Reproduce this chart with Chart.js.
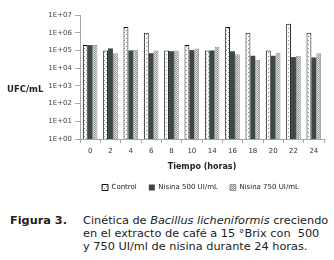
<!DOCTYPE html>
<html>
<head>
<meta charset="utf-8">
<script src="https://cdn.jsdelivr.net/npm/chart.js@4"></script>
<style>
  body { margin: 0; background: #fff; width: 334px; height: 260px; overflow: hidden; }
  .chart-box { position: absolute; left: 0; top: 0; width: 334px; height: 201px; }
  .caption { position: absolute; left: 10px; top: 214px; font-family: "DejaVu Sans", sans-serif; font-size: 11.3px; line-height: 13px; color: #222; }
  .caption .num { position: absolute; left: 0; top: 0; font-weight: bold; white-space: nowrap; }
  .caption .txt { position: absolute; left: 73px; top: 0; white-space: nowrap; }
</style>
</head>
<body>
<div class="chart-box"><canvas id="chart"></canvas></div>
<div class="caption">
  <span class="num">Figura 3.</span>
  <span class="txt">Cinética de <i>Bacillus licheniformis</i> creciendo<br>en el extracto de café a 15 °Brix con &nbsp;500<br>y 750 UI/ml de nisina durante 24 horas.</span>
</div>
<script>
  // horas de muestreo
  const horas = ["0", "2", "4", "6", "8", "10", "14", "16", "18", "20", "22", "24"];

  // UFC/mL
  const control = [2e5, 1e5, 2.1e6, 1e6, 1e5, 2e5, 1e5, 2.1e6, 1e6, 1e5, 3.2e6, 1e6];
  const nisina500 = [2e5, 1.3e5, 1e5, 7e4, 9e4, 1.05e5, 1e5, 9e4, 5e4, 5e4, 4.2e4, 4e4];
  const nisina750 = [2e5, 7e4, 1.1e5, 1e5, 1e5, 1.3e5, 1.6e5, 6e4, 3e4, 7.5e4, 5e4, 7e4];

  const yTicks = [1, 10, 100, 1e3, 1e4, 1e5, 1e6, 1e7];

  const ctx = document.getElementById("chart").getContext("2d");

  // tramas de las barras
  const patControl = ctx.createPattern((() => {
    const c = document.createElement("canvas");
    c.width = 4; c.height = 4;
    const g = c.getContext("2d");
    g.fillStyle = "#ffffff"; g.fillRect(0, 0, 4, 4);
    g.fillStyle = "#8a8a8a"; g.fillRect(0, 0, 1, 1); g.fillRect(2, 2, 1, 1);
    return c;
  })(), "repeat");
  const pat750 = ctx.createPattern((() => {
    const c = document.createElement("canvas");
    c.width = 2; c.height = 2;
    const g = c.getContext("2d");
    g.fillStyle = "#e4e4e4"; g.fillRect(0, 0, 2, 2);
    g.fillStyle = "#8c8c8c"; g.fillRect(0, 0, 1, 1); g.fillRect(1, 1, 1, 1);
    return c;
  })(), "repeat");

  const yTitle = {
    id: "yTitle",
    afterLayout(chart) {
      // mover la leyenda como en la figura
      const lg = chart.legend;
      const dx = 102 - (lg.left + lg.options.labels.padding);
      const dy = 0;
      lg.left += dx;
      lg.right += dx;
      lg.top += dy;
      lg.bottom += dy;
    },
    afterDraw(chart) {
      const c = chart.ctx;
      const a = chart.chartArea;
      c.save();
      c.font = "bold 8.5px 'DejaVu Sans', sans-serif";
      c.fillStyle = "#222";
      c.textBaseline = "middle";
      c.fillText("UFC/mL", 7, (a.top + a.bottom) / 2 + 13);
      c.restore();
    },
  };

  new Chart(ctx, {
    type: "bar",
    data: {
      labels: horas,
      datasets: [
        { label: "Control", data: control, backgroundColor: patControl, borderColor: "#111", borderWidth: 1 },
        { label: "Nisina 500 UI/mL", data: nisina500, backgroundColor: "#3c4848", borderColor: "#3c4848", borderWidth: 0 },
        { label: "Nisina 750 UI/mL", data: nisina750, backgroundColor: pat750, borderColor: "#999", borderWidth: 1 },
      ],
    },
    options: {
      responsive: true,
      maintainAspectRatio: false,
      animation: false,
      categoryPercentage: 0.72,
      barPercentage: 1,
      layout: { padding: { top: 15, right: 10, left: 0, bottom: 0 } },
      plugins: {
        tooltip: { enabled: false },
        legend: {
          position: "bottom",
          align: "start",
          labels: {
            boxWidth: 6,
            boxHeight: 6,
            padding: 12,
            color: "#222",
            font: { family: "'DejaVu Sans', sans-serif", size: 7 },
          },
        },
      },
      scales: {
        x: {
          grid: { display: true, drawOnChartArea: false, offset: true, color: "#a6a6a6", tickLength: 4 },
          border: { color: "#a6a6a6" },
          ticks: { color: "#333", padding: 4, font: { family: "'DejaVu Sans', sans-serif", size: 7 } },
          title: {
            display: true,
            text: "Tiempo (horas)",
            color: "#222",
            padding: { top: 3, bottom: 0 },
            font: { family: "'DejaVu Sans', sans-serif", size: 8, weight: "bold" },
          },
        },
        y: {
          type: "logarithmic",
          min: 1,
          max: 1e7,
          afterBuildTicks: (s) => { s.ticks = yTicks.map((v) => ({ value: v })); },
          afterFit: (s) => { s.width = 80; },
          grid: { display: true, drawOnChartArea: false, color: "#a6a6a6", tickLength: 5 },
          border: { color: "#a6a6a6" },
          ticks: {
            color: "#444",
            padding: 3,
            font: { family: "'DejaVu Sans', sans-serif", size: 7 },
            callback: (v) => "1E+" + String(Math.round(Math.log10(v))).padStart(2, "0"),
          },
        },
      },
    },
    plugins: [yTitle],
  });
</script>
</body>
</html>
